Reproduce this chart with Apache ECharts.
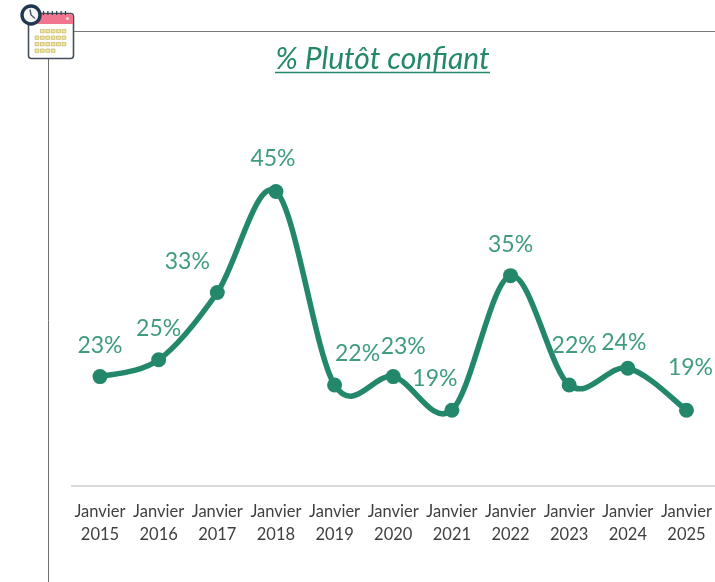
<!DOCTYPE html>
<html><head><meta charset="utf-8">
<style>html,body{margin:0;padding:0;background:#fff;overflow:hidden}#c{width:715px;height:582px}</style>
<script src="https://cdn.jsdelivr.net/npm/echarts@6/dist/echarts.min.js"></script>
</head><body><div id="c"></div>
<script>
var categories=['Janvier\n2015','Janvier\n2016','Janvier\n2017','Janvier\n2018','Janvier\n2019','Janvier\n2020','Janvier\n2021','Janvier\n2022','Janvier\n2023','Janvier\n2024','Janvier\n2025'];
var values=[23,25,33,45,22,23,19,35,22,24,19];
var labelShiftX=[0,0,-30,-3,23,10,-17,0,5,-4,4];
var labelShiftY=[0,0,1,-1,0,1,0,0,-8,6,-11];
var green='#23886b', labelGreen='#3f9c80';
var chart=echarts.init(document.getElementById('c'),null,{renderer:'canvas'});
var cells=[];
var cellColor='#f3e89a';
[[1,2,3,4,5],[0,1,2,3,4,5],[0,1,2,3,4,5],[0,1,2,3]].forEach(function(r,j){
  r.forEach(function(i){cells.push({type:'rect',shape:{x:35+i*5.4,y:29.5+j*6.5,width:3.8,height:3.4},style:{fill:cellColor,stroke:'#b9a95a',lineWidth:0.6},silent:true});});
});
function teeth(){var a=[];for(var x=43.5;x<=66;x+=4.4){a.push({type:'line',shape:{x1:x,y1:11,x2:x,y2:15},style:{stroke:'#2f3a48',lineWidth:1.2},silent:true});}return a;}
var graphics=[
 {type:'line',shape:{x1:73,y1:31.5,x2:715,y2:31.5},style:{stroke:'#7a7a7a',lineWidth:1},silent:true},
 {type:'line',shape:{x1:48.5,y1:59,x2:48.5,y2:582},style:{stroke:'#6f6f6f',lineWidth:1},silent:true},
 {type:'line',shape:{x1:71,y1:486,x2:715,y2:486},style:{stroke:'#d9d9d9',lineWidth:2},silent:true},
 {type:'rect',shape:{x:28.5,y:13.5,width:45,height:45,r:3},style:{fill:'#fff',stroke:'#46505c',lineWidth:1.6},silent:true},
 {type:'rect',shape:{x:29,y:14,width:44,height:10,r:[3,3,0,0]},style:{fill:'#f2758f'},silent:true},
 {type:'circle',shape:{cx:67.5,cy:18.5,r:1.6},style:{fill:'#e8d8dc'},silent:true}
].concat(cells).concat(teeth()).concat([
 {type:'circle',shape:{cx:31,cy:15,r:9},style:{fill:'#f4f6f8',stroke:'#21364f',lineWidth:3.4},silent:true},
 {type:'polyline',shape:{points:[[30,9.5],[31,15],[35,18.5]]},style:{stroke:'#4a5a6c',lineWidth:1.4,fill:null},silent:true},
 {type:'line',shape:{x1:275,y1:72.5,x2:490,y2:72.5},style:{stroke:green,lineWidth:1.4},silent:true},
 {type:'text',x:382.5,y:59,style:{text:'% Plutôt confiant',font:'italic 400 30px Lato',fill:green,textAlign:'center',textVerticalAlign:'middle'},silent:true}
]);
function curveSegment(params,api){
  var i=params.dataIndex;
  if(i>=values.length-1) return null;
  var p=function(k){k=Math.max(0,Math.min(values.length-1,k));return api.coord([k,values[k]]);};
  var a=p(i-1),b=p(i),c=p(i+1),d=p(i+2);
  return {type:'bezierCurve',silent:true,
    shape:{x1:b[0],y1:b[1],cpx1:b[0]+(c[0]-a[0])/6,cpy1:b[1]+(c[1]-a[1])/6,cpx2:c[0]-(d[0]-b[0])/6,cpy2:c[1]-(d[1]-b[1])/6,x2:c[0],y2:c[1]},
    style:{stroke:green,lineWidth:5.5,fill:null,lineCap:'round'}};
}
chart.setOption({
 animation:false,
 backgroundColor:'#fff',
 grid:{left:100,width:587.5,top:191.5,height:294.5,containLabel:false},
 xAxis:{type:'category',data:categories,boundaryGap:false,
  axisLine:{show:false},axisTick:{show:false},
  axisLabel:{interval:0,color:'#404040',fontFamily:'Lato',fontSize:16.5,lineHeight:23,margin:14}},
 yAxis:{type:'value',min:10,max:45,show:false,splitLine:{show:false}},
 series:[
  {type:'custom',coordinateSystem:'cartesian2d',clip:false,z:1,silent:true,
   data:values.map(function(v,i){return [i,v];}),encode:{x:0,y:1},renderItem:curveSegment},
  {type:'line',z:2,
  data:values.map(function(v,i){return {value:v,label:{offset:[labelShiftX[i],labelShiftY[i]]}};}),
  lineStyle:{width:0},itemStyle:{color:green},symbol:'circle',symbolSize:15,
  label:{show:true,position:'top',distance:12.5,formatter:'{c}%',color:labelGreen,fontFamily:'Lato',fontSize:23}}],
 graphic:graphics
});
</script></body></html>
